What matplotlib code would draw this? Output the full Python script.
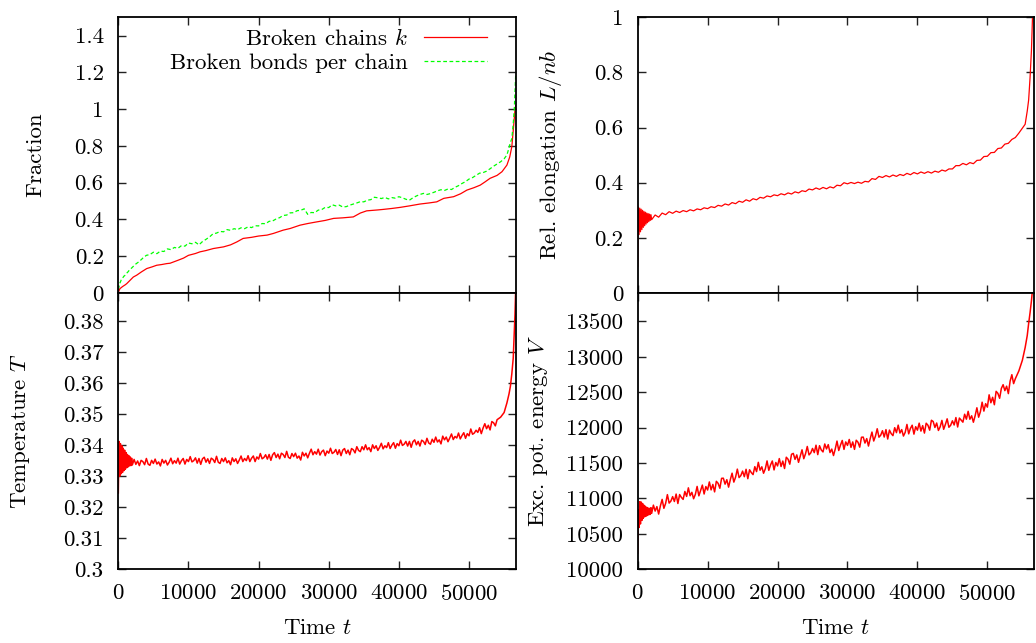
import matplotlib
matplotlib.use("Agg")
import matplotlib.pyplot as plt
from matplotlib.ticker import FuncFormatter

plt.rcParams['font.family'] = 'cmr10'
plt.rcParams['mathtext.fontset'] = 'cm'
plt.rcParams['axes.unicode_minus'] = False
plt.rcParams['axes.formatter.use_mathtext'] = True

# sampling times for fraction / elongation
t_grid = [0, 100, 200, 300, 400, 500, 600, 700, 800, 900,
          1000, 1100, 1200, 1300, 1400, 1500, 1600, 1700, 1800, 1900,
          2000,
          2500, 3000, 3500, 4000, 4500, 5000, 5500, 6000, 6500, 7000,
          7500, 8000, 8500, 9000, 9500, 10000, 10500, 11000, 11500, 12000,
          12500, 13000, 13500, 14000, 14500, 15000, 15500, 16000, 16500, 17000,
          17500, 18000, 18500, 19000, 19500, 20000, 20500, 21000, 21500, 22000,
          22500, 23000, 23500, 24000, 24500, 25000, 25500, 26000, 26500, 27000,
          27500, 28000, 28500, 29000, 29500, 30000, 30500, 31000, 31500, 32000,
          32500, 33000, 33500, 34000, 34500, 35000, 35500, 36000, 36500, 37000,
          37500, 38000, 38500, 39000, 39500, 40000, 40500, 41000, 41500, 42000,
          42500, 43000, 43500, 44000, 44500, 45000, 45500, 46000, 46500, 47000,
          47500, 48000, 48500, 49000, 49500, 50000, 50500, 51000, 51500, 52000,
          52500, 53000, 53500, 54000, 54500,
          55000, 55400, 55700, 55900, 56100, 56300, 56450, 56550, 56650]

# denser sampling times for temperature / energy
t_fine = [0, 100, 200, 300, 400, 500, 600, 700, 800, 900,
          1000, 1100, 1200, 1300, 1400, 1500, 1600, 1700, 1800, 1900,
          2000,
          2250, 2500, 2750, 3000, 3250, 3500, 3750, 4000,
          4250, 4500, 4750, 5000, 5250, 5500, 5750, 6000,
          6250, 6500, 6750, 7000, 7250, 7500, 7750, 8000,
          8250, 8500, 8750, 9000, 9250, 9500, 9750, 10000,
          10250, 10500, 10750, 11000, 11250, 11500, 11750, 12000,
          12250, 12500, 12750, 13000, 13250, 13500, 13750, 14000,
          14250, 14500, 14750, 15000, 15250, 15500, 15750, 16000,
          16250, 16500, 16750, 17000, 17250, 17500, 17750, 18000,
          18250, 18500, 18750, 19000, 19250, 19500, 19750, 20000,
          20250, 20500, 20750, 21000, 21250, 21500, 21750, 22000,
          22250, 22500, 22750, 23000, 23250, 23500, 23750, 24000,
          24250, 24500, 24750, 25000, 25250, 25500, 25750, 26000,
          26250, 26500, 26750, 27000, 27250, 27500, 27750, 28000,
          28250, 28500, 28750, 29000, 29250, 29500, 29750, 30000,
          30250, 30500, 30750, 31000, 31250, 31500, 31750, 32000,
          32250, 32500, 32750, 33000, 33250, 33500, 33750, 34000,
          34250, 34500, 34750, 35000, 35250, 35500, 35750, 36000,
          36250, 36500, 36750, 37000, 37250, 37500, 37750, 38000,
          38250, 38500, 38750, 39000, 39250, 39500, 39750, 40000,
          40250, 40500, 40750, 41000, 41250, 41500, 41750, 42000,
          42250, 42500, 42750, 43000, 43250, 43500, 43750, 44000,
          44250, 44500, 44750, 45000, 45250, 45500, 45750, 46000,
          46250, 46500, 46750, 47000, 47250, 47500, 47750, 48000,
          48250, 48500, 48750, 49000, 49250, 49500, 49750, 50000,
          50250, 50500, 50750, 51000, 51250, 51500, 51750, 52000,
          52250, 52500, 52750, 53000, 53250, 53500, 53750, 54000,
          54500, 55000, 55400, 55700, 55900, 56100, 56300, 56450, 56550, 56650]

# broken chains k (own sampling)
t_k = [0, 240, 600, 1000, 1200, 1670, 2140, 2620, 3300, 4050,
       4800, 5470, 6200, 6900, 7380, 8500, 9300, 10000, 11000, 11650,
       12500, 13550, 15000, 16000, 16900, 17800, 19000, 20000, 21200, 22100,
       23500, 24500, 25900, 27000, 28000, 29500, 30700, 32000, 33500, 34500,
       35400, 37000, 37800, 39000, 40200, 41500, 43000, 44300, 45400, 46400,
       47800, 48800, 49700, 50700, 51600, 52300, 53000, 54000, 54700, 55400,
       55800, 56100, 56350, 56550, 56650]
chains_k = [0.005, 0.024, 0.035, 0.045, 0.051, 0.069, 0.087, 0.097, 0.115, 0.133,
            0.142, 0.151, 0.155, 0.160, 0.162, 0.178, 0.190, 0.205, 0.215, 0.224,
            0.231, 0.242, 0.251, 0.262, 0.278, 0.297, 0.303, 0.310, 0.315, 0.324,
            0.342, 0.351, 0.369, 0.378, 0.385, 0.395, 0.406, 0.409, 0.414, 0.435,
            0.447, 0.452, 0.455, 0.460, 0.466, 0.474, 0.484, 0.490, 0.496, 0.515,
            0.524, 0.540, 0.560, 0.573, 0.587, 0.605, 0.624, 0.640, 0.660, 0.696,
            0.740, 0.796, 0.905, 0.996, 1.020]

bonds = [0.020, 0.038, 0.052, 0.060, 0.070, 0.074, 0.082, 0.086, 0.092, 0.094,
         0.100, 0.104, 0.108, 0.112, 0.116, 0.121, 0.124, 0.129, 0.133, 0.136,
         0.140,
         0.158, 0.172, 0.190, 0.205, 0.209, 0.222, 0.214, 0.228, 0.226, 0.240,
         0.236, 0.248, 0.243, 0.258, 0.255, 0.272, 0.268, 0.276, 0.262, 0.280,
         0.292, 0.305, 0.322, 0.326, 0.335, 0.333, 0.345, 0.341, 0.350, 0.345,
         0.355, 0.350, 0.360, 0.356, 0.366, 0.365, 0.378, 0.377, 0.390, 0.392,
         0.403, 0.410, 0.422, 0.424, 0.436, 0.437, 0.448, 0.450, 0.458, 0.428,
         0.438, 0.437, 0.451, 0.454, 0.466, 0.465, 0.480, 0.474, 0.478, 0.468,
         0.470, 0.478, 0.484, 0.490, 0.497, 0.496, 0.505, 0.508, 0.521, 0.518,
         0.514, 0.520, 0.512, 0.519, 0.516, 0.524, 0.518, 0.510, 0.505, 0.518,
         0.528, 0.536, 0.542, 0.536, 0.541, 0.548, 0.556, 0.562, 0.558, 0.566,
         0.563, 0.575, 0.584, 0.596, 0.606, 0.620, 0.628, 0.640, 0.652, 0.655,
         0.663, 0.676, 0.690, 0.702, 0.714,
         0.730, 0.751, 0.790, 0.820, 0.840, 0.920, 1.000, 1.100, 1.185]

elong = [0.096, 0.312, 0.212, 0.308, 0.222, 0.304, 0.230, 0.300, 0.238, 0.296,
         0.244, 0.293, 0.250, 0.290, 0.255, 0.288, 0.259, 0.286, 0.263, 0.284,
         0.266,
         0.283, 0.275, 0.290, 0.284, 0.295, 0.289, 0.297, 0.292, 0.299, 0.295,
         0.302, 0.298, 0.305, 0.302, 0.309, 0.306, 0.313, 0.310, 0.318, 0.315,
         0.323, 0.319, 0.328, 0.324, 0.333, 0.329, 0.338, 0.333, 0.342, 0.338,
         0.347, 0.344, 0.352, 0.349, 0.356, 0.353, 0.360, 0.356, 0.363, 0.359,
         0.367, 0.363, 0.371, 0.368, 0.377, 0.374, 0.381, 0.376, 0.383, 0.378,
         0.385, 0.381, 0.391, 0.389, 0.400, 0.396, 0.401, 0.397, 0.402, 0.398,
         0.405, 0.403, 0.415, 0.412, 0.423, 0.419, 0.426, 0.421, 0.428, 0.423,
         0.430, 0.426, 0.434, 0.429, 0.437, 0.432, 0.439, 0.434, 0.440, 0.435,
         0.442, 0.438, 0.446, 0.442, 0.450, 0.450, 0.462, 0.462, 0.470, 0.465,
         0.473, 0.469, 0.481, 0.482, 0.495, 0.496, 0.509, 0.510, 0.524, 0.526,
         0.540, 0.543, 0.557, 0.564, 0.580,
         0.598, 0.612, 0.660, 0.700, 0.780, 0.880, 1.000, 1.050, 1.100]

temp = [0.3246, 0.3412, 0.3300, 0.3405, 0.3308, 0.3398, 0.3312, 0.3390, 0.3318, 0.3384,
        0.3322, 0.3376, 0.3327, 0.3370, 0.3330, 0.3366, 0.3333, 0.3362, 0.3334, 0.3358,
        0.3336,
        0.3354, 0.3338, 0.3349, 0.3334, 0.3351, 0.3347, 0.3337, 0.3357,
        0.3339, 0.3335, 0.3351, 0.3341, 0.3355, 0.3339, 0.3346, 0.3333,
        0.3354, 0.3342, 0.3351, 0.3336, 0.3345, 0.3358, 0.3340, 0.3350,
        0.3342, 0.3358, 0.3339, 0.3350, 0.3357, 0.3339, 0.3354, 0.3347,
        0.3363, 0.3346, 0.3350, 0.3359, 0.3342, 0.3357, 0.3338, 0.3356,
        0.3361, 0.3345, 0.3356, 0.3341, 0.3358, 0.3354, 0.3344, 0.3364,
        0.3345, 0.3341, 0.3357, 0.3347, 0.3359, 0.3343, 0.3350, 0.3337,
        0.3359, 0.3347, 0.3356, 0.3341, 0.3352, 0.3365, 0.3347, 0.3357,
        0.3350, 0.3366, 0.3347, 0.3358, 0.3365, 0.3347, 0.3362, 0.3355,
        0.3373, 0.3356, 0.3360, 0.3369, 0.3355, 0.3370, 0.3351, 0.3369,
        0.3376, 0.3360, 0.3371, 0.3356, 0.3374, 0.3370, 0.3360, 0.3380,
        0.3361, 0.3357, 0.3373, 0.3363, 0.3374, 0.3358, 0.3365, 0.3352,
        0.3377, 0.3365, 0.3374, 0.3359, 0.3374, 0.3387, 0.3369, 0.3379,
        0.3371, 0.3387, 0.3368, 0.3379, 0.3384, 0.3366, 0.3381, 0.3374,
        0.3390, 0.3373, 0.3377, 0.3386, 0.3370, 0.3385, 0.3366, 0.3384,
        0.3389, 0.3373, 0.3384, 0.3369, 0.3389, 0.3385, 0.3375, 0.3395,
        0.3383, 0.3379, 0.3395, 0.3385, 0.3401, 0.3385, 0.3392, 0.3379,
        0.3401, 0.3389, 0.3398, 0.3383, 0.3393, 0.3406, 0.3388, 0.3398,
        0.3392, 0.3408, 0.3389, 0.3400, 0.3408, 0.3390, 0.3405, 0.3398,
        0.3416, 0.3399, 0.3403, 0.3412, 0.3397, 0.3412, 0.3393, 0.3411,
        0.3417, 0.3401, 0.3412, 0.3397, 0.3416, 0.3412, 0.3402, 0.3422,
        0.3407, 0.3403, 0.3419, 0.3409, 0.3426, 0.3410, 0.3417, 0.3404,
        0.3429, 0.3417, 0.3426, 0.3411, 0.3423, 0.3436, 0.3418, 0.3428,
        0.3423, 0.3439, 0.3420, 0.3431, 0.3440, 0.3422, 0.3437, 0.3430,
        0.3452, 0.3435, 0.3439, 0.3448, 0.3441, 0.3456, 0.3437, 0.3455,
        0.3469, 0.3453, 0.3464, 0.3449, 0.3476, 0.3472, 0.3462, 0.3482,
        0.3490, 0.3505, 0.3536, 0.3565, 0.3590, 0.3630, 0.3680, 0.3760, 0.3820, 0.3900]

energy = [10226, 10840, 10590, 10955, 10640, 10950, 10690, 10930, 10720, 10905,
          10740, 10890, 10750, 10875, 10760, 10865, 10770, 10860, 10775, 10870,
          10790,
          10906, 10822, 10885, 10780, 10896, 10987, 10861, 10931,
          11054, 10935, 10963, 11026, 10957, 11062, 10929, 11055,
          11015, 10987, 11099, 11029, 11150, 11038, 11087, 10996,
          11058, 11170, 11037, 11114, 11189, 11063, 11168, 11119,
          11233, 11121, 11198, 11093, 11242, 11214, 11144, 11284,
          11286, 11202, 11265, 11160, 11266, 11357, 11231, 11301,
          11414, 11295, 11323, 11386, 11307, 11412, 11279, 11405,
          11365, 11337, 11449, 11379, 11510, 11398, 11447, 11356,
          11418, 11530, 11397, 11474, 11529, 11403, 11508, 11459,
          11563, 11451, 11528, 11423, 11582, 11554, 11484, 11624,
          11636, 11552, 11615, 11510, 11596, 11687, 11561, 11631,
          11734, 11615, 11643, 11706, 11647, 11752, 11619, 11745,
          11685, 11657, 11769, 11699, 11760, 11648, 11697, 11606,
          11698, 11810, 11677, 11754, 11819, 11693, 11798, 11749,
          11833, 11721, 11798, 11693, 11822, 11794, 11724, 11864,
          11866, 11782, 11845, 11740, 11846, 11937, 11811, 11881,
          11984, 11865, 11893, 11956, 11867, 11972, 11839, 11965,
          11915, 11887, 11999, 11929, 12035, 11923, 11972, 11881,
          11933, 12045, 11912, 11989, 12034, 11908, 12013, 11964,
          12063, 11951, 12028, 11923, 12062, 12034, 11964, 12104,
          12086, 12002, 12065, 11960, 12011, 12102, 11976, 12046,
          12124, 12005, 12033, 12096, 12037, 12142, 12009, 12135,
          12105, 12077, 12189, 12119, 12230, 12118, 12167, 12076,
          12168, 12280, 12147, 12224, 12359, 12233, 12338, 12289,
          12463, 12351, 12428, 12323, 12512, 12484, 12414, 12554,
          12606, 12522, 12585, 12480, 12656, 12747, 12621, 12691,
          12800, 12950, 13130, 13300, 13470, 13620, 13790, 13950, 14050, 14150]

x_ticks = [0, 10000, 20000, 30000, 40000, 50000]
x_max = 56700

RED = '#ff0000'
GREEN = '#00ff00'
FS = 16.5

fig = plt.figure(figsize=(10.36, 6.43), dpi=100)
ax_frac = fig.add_axes([0.1142, 0.5443, 0.3839, 0.4288])
ax_el = fig.add_axes([0.6155, 0.5443, 0.3828, 0.4288])
ax_T = fig.add_axes([0.1142, 0.1146, 0.3839, 0.4297])
ax_V = fig.add_axes([0.6155, 0.1146, 0.3828, 0.4297])

fmt = FuncFormatter(lambda v, p: '%g' % v)

for ax in [ax_frac, ax_el, ax_T, ax_V]:
    ax.set_xlim(0, x_max)
    ax.set_xticks(x_ticks)
    ax.tick_params(direction='in', length=6, width=1, top=True, right=True,
                   labelsize=FS, pad=10.5, colors='#222222', labelcolor='black')
    ax.yaxis.set_major_formatter(fmt)
    for s in ax.spines.values():
        s.set_linewidth(1.3)

ax_frac.plot(t_k, chains_k, color=RED, lw=0.9, label='Broken chains $k$')
ax_frac.plot(t_grid, bonds, color=GREEN, lw=0.9, ls=(0, (3, 2)),
             label='Broken bonds per chain')
ax_frac.set_ylim(0, 1.5)
ax_frac.set_yticks([0, 0.2, 0.4, 0.6, 0.8, 1, 1.2, 1.4])
ax_frac.tick_params(labelbottom=False)
ax_frac.set_ylabel('Fraction', fontsize=FS)
ax_frac.yaxis.set_label_coords(-0.209, 0.5)
ax_frac.legend(loc='upper right', bbox_to_anchor=(0.926, 0.9595), frameon=False,
               markerfirst=False, fontsize=FS, handlelength=2.75,
               handletextpad=0.7, labelspacing=0.14, borderpad=0, borderaxespad=0)

ax_el.plot(t_grid, elong, color=RED, lw=0.9)
ax_el.set_ylim(0, 1)
ax_el.set_yticks([0, 0.2, 0.4, 0.6, 0.8, 1])
ax_el.tick_params(labelbottom=False)
ax_el.set_ylabel('Rel. elongation $L/nb$', fontsize=FS)
ax_el.yaxis.set_label_coords(-0.219, 0.5)

ax_T.plot(t_fine, temp, color=RED, lw=1.1)
ax_T.set_ylim(0.3, 0.389)
ax_T.set_yticks([0.3, 0.31, 0.32, 0.33, 0.34, 0.35, 0.36, 0.37, 0.38])
ax_T.set_ylabel('Temperature $T$', fontsize=FS)
ax_T.yaxis.set_label_coords(-0.247, 0.5)
ax_T.set_xlabel('Time $t$', fontsize=FS)
ax_T.xaxis.set_label_coords(0.5, -0.214)

ax_V.plot(t_fine, energy, color=RED, lw=1.1)
ax_V.set_ylim(10000, 13900)
ax_V.set_yticks([10000, 10500, 11000, 11500, 12000, 12500, 13000, 13500])
ax_V.set_ylabel('Exc. pot. energy $V$', fontsize=FS)
ax_V.yaxis.set_label_coords(-0.249, 0.5)
ax_V.set_xlabel('Time $t$', fontsize=FS)
ax_V.xaxis.set_label_coords(0.5, -0.214)

for ax in [ax_frac, ax_el, ax_T, ax_V]:
    ax.yaxis.label.set_va('center')
    ax.xaxis.label.set_va('center')

fig.savefig('out.png', dpi=100)
